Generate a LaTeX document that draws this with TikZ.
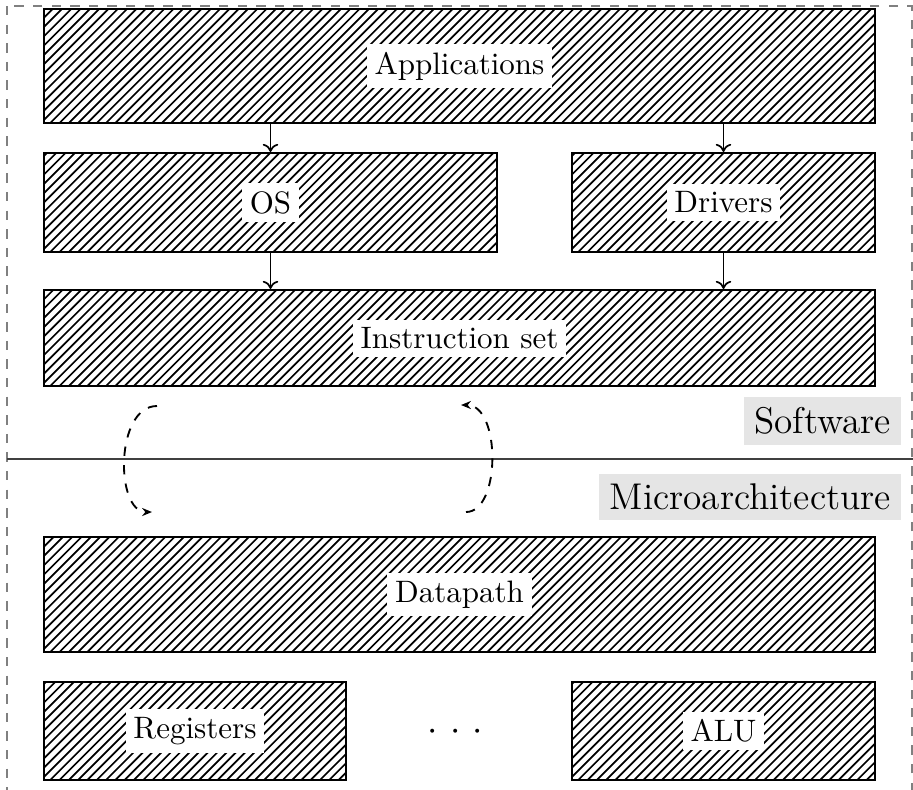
\documentclass[tikz,border=0pt]{standalone}
\usetikzlibrary{fit,arrows.meta}
\begin{document}
\begin{tikzpicture}[x=0.32256pt,y=-0.32256pt,
  hbox/.style={draw=black, line width=0.7pt, inner sep=0pt,
    path picture={
      \foreach \k in {0,...,104}{
        \draw[line width=0.55pt, black]
          ([xshift=\k*3pt-40pt]path picture bounding box.south west) -- ++(42pt,42pt);
      }
    }},
  lbl/.style={fill=white, inner sep=2.5pt, font=\normalsize},
  tagbox/.style={fill=gray!20, inner sep=3.33pt, font=\large, anchor=east},
  flow/.style={-{To[length=2.6pt,width=5pt]}, line width=0.55pt},
  loopline/.style={dashed, semithick, -{Stealth[length=3.2pt,width=2.6pt]}}]
\clip (0,0) rectangle (913,789);
% outer frame and divider
\draw[gray, dashed] (7,6) rectangle (912,830);
\draw[black!75] (7,459) -- (913,459);
% boxes
\node[hbox, fit={(44,9) (875,123)}] (apps) {};
\node[hbox, fit={(44,153) (497,252)}] (os) {};
\node[hbox, fit={(572,153) (875,252)}] (drv) {};
\node[hbox, fit={(44,290) (875,386)}] (iset) {};
\node[hbox, fit={(44,537) (875,652)}] (dp) {};
\node[hbox, fit={(44,682) (346,780)}] (reg) {};
\node[hbox, fit={(572,682) (875,780)}] (alu) {};
% labels
\node[lbl] (appsl) at (apps.center) {Applications};
\node[lbl] (osl) at (os.center) {OS};
\node[lbl] (drvl) at (drv.center) {Drivers};
\node[lbl] (isetl) at (iset.center) {Instruction set};
\node[lbl] (dpl) at (dp.center) {Datapath};
\node[lbl] (regl) at (reg.center) {Registers};
\node[lbl] (alul) at (alu.center) {ALU};
\node[anchor=base, inner sep=0pt, font=\large] (dots) at (455.5,740) {$\cdot$\hspace{3.9pt}$\cdot$\hspace{3.9pt}$\cdot$};
% tags
\node[tagbox] (sw) at (902,421) {Software};
\node[tagbox] (ma) at (902,497) {Microarchitecture};
% arrows
\draw[flow] (os.north |- apps.south) -- (os.north);
\draw[flow] (drv.north |- apps.south) -- (drv.north);
\draw[flow] (os.south) -- (os.south |- iset.north);
\draw[flow] (drv.south) -- (drv.south |- iset.north);
% dashed loops
\coordinate (l1) at (157,406);
\coordinate (l2) at (152,512);
\coordinate (r1) at (466,512);
\coordinate (r2) at (461,405);
\draw[loopline] (l1) .. controls (115,406) and (115,512) .. (l2);
\draw[loopline] (r1) .. controls (501,512) and (501,405) .. (r2);
\end{tikzpicture}
\end{document}
